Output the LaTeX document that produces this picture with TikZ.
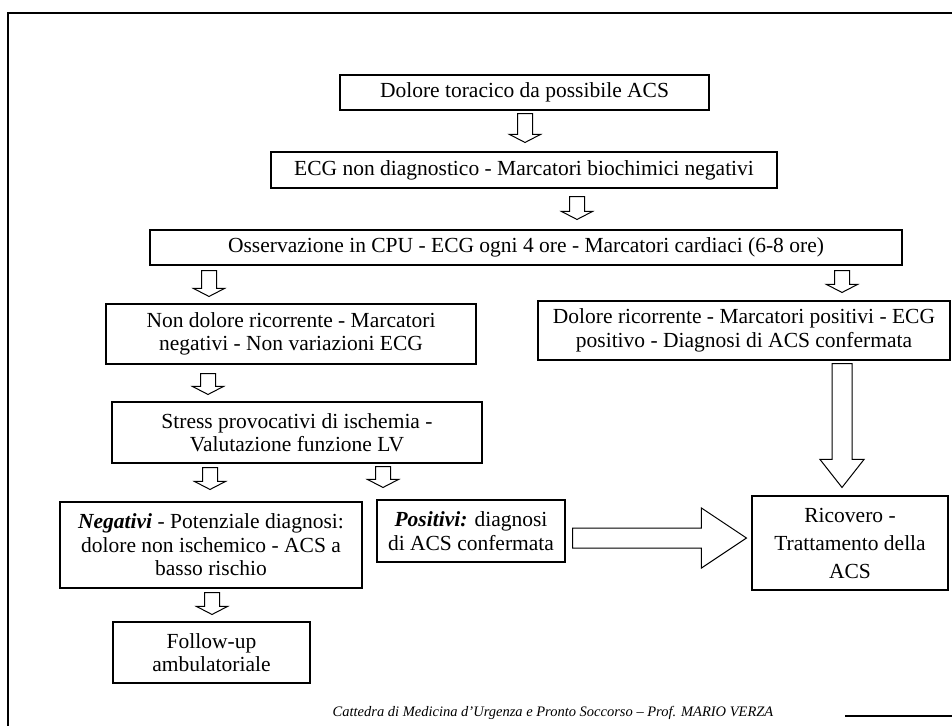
\documentclass[tikz,border=0pt]{standalone}
\usepackage{fontspec}
\setmainfont{Liberation Serif}
\usetikzlibrary{calc}

% Hollow block arrow pointing down.
% #1 x-position coordinate, #2 upper anchor, #3 lower anchor,
% #4 shaft half-width, #5 head half-width, #6 head length, #7 top gap, #8 bottom gap
\newcommand\vblock[8]{%
  \draw[blk] let \p3=(#1), \p1=(#2), \p2=(#3) in
    (\x3-#4,\y1-#7) -- (\x3+#4,\y1-#7) -- (\x3+#4,\y2+#8+#6) -- (\x3+#5,\y2+#8+#6)
    -- (\x3,\y2+#8) -- (\x3-#5,\y2+#8+#6) -- (\x3-#4,\y2+#8+#6) -- cycle;}

% Hollow block arrow pointing right.
% #1 y-position coordinate, #2 left anchor, #3 right anchor,
% #4 shaft half-width, #5 head half-width, #6 head length, #7 left gap, #8 right gap
\newcommand\hblock[8]{%
  \draw[blk] let \p3=(#1), \p1=(#2), \p2=(#3) in
    (\x1+#7,\y3+#4) -- (\x2-#8-#6,\y3+#4) -- (\x2-#8-#6,\y3+#5) -- (\x2-#8,\y3)
    -- (\x2-#8-#6,\y3-#5) -- (\x2-#8-#6,\y3-#4) -- (\x1+#7,\y3-#4) -- cycle;}

\begin{document}
\begin{tikzpicture}[x=1pt,y=-1pt,
  box/.style={draw=black, line width=1.1pt, align=center, inner sep=0pt,
    font=\fontsize{21.5}{23.5}\selectfont},
  blk/.style={draw=black, line width=1pt, fill=white, line join=miter},
  frameline/.style={draw=black, line width=2.6pt}]
\useasboundingbox (0,0) rectangle (952,726);

% page frame
\draw[frameline] (952,13) -- (8,13) -- (8,726);
\draw[black, line width=2pt] (845,716) -- (952,716);

% boxes
\node[box, minimum width=369pt, minimum height=35pt] (b1) at (524.5,92.5)
  {Dolore toracico da possibile ACS};
\node[box, minimum width=506pt, minimum height=36pt] (b2) at (524,170)
  {ECG non diagnostico - Marcatori biochimici negativi};
\node[box, minimum width=752pt, minimum height=35pt] (b3) at (526,247.5)
  {Osservazione in CPU - ECG ogni 4 ore - Marcatori cardiaci (6-8 ore)};
\node[box, minimum width=370pt, minimum height=60pt] (b4) at (291,334)
  {Non dolore ricorrente - Marcatori\\negativi - Non variazioni ECG};
\node[box, minimum width=412pt, minimum height=59pt] (b5) at (744,330.5)
  {Dolore ricorrente - Marcatori positivi - ECG\\positivo - Diagnosi di ACS confermata};
\node[box, minimum width=370pt, minimum height=61pt] (b6) at (297,432.5)
  {Stress provocativi di ischemia -\\Valutazione funzione LV};
\node[box, minimum width=302pt, minimum height=86pt] (neg) at (211,545)
  {\textbf{\textit{Negativi}} - Potenziale diagnosi:\\dolore non ischemico - ACS a\\basso rischio};
\node[box, minimum width=188pt, minimum height=62pt] (pos) at (471,531)
  {\textbf{\textit{Positivi:}} diagnosi\\di ACS confermata};
\node[box, minimum width=197pt, minimum height=61pt] (fu) at (211.5,652.5)
  {Follow-up\\ambulatoriale};
\node[box, minimum width=196pt, minimum height=94pt,
  font=\fontsize{21.5}{28}\selectfont] (ric) at (850,543)
  {Ricovero -\\Trattamento della\\ACS};

% arrow positions
\coordinate (xa1) at (525,0);
\coordinate (xa2) at (577,0);
\coordinate (xa3) at (209,0);
\coordinate (xa4) at (842,0);
\coordinate (xa5) at (208,0);
\coordinate (xa6) at (210,0);
\coordinate (xa7) at (383,0);
\coordinate (xa8) at (212,0);
\coordinate (xbig) at (842,0);
\coordinate (yh) at (0,538);

% small block arrows
\vblock{xa1}{b1.south}{b2.north}{7.5pt}{15.5pt}{8pt}{3pt}{9pt}
\vblock{xa2}{b2.south}{b3.north}{7.5pt}{15.5pt}{8pt}{8pt}{10pt}
\vblock{xa3}{b3.south}{b4.north}{7.5pt}{15.5pt}{8pt}{5pt}{7pt}
\vblock{xa4}{b3.south}{b5.north}{7.5pt}{15.5pt}{8pt}{5pt}{8pt}
\vblock{xa5}{b4.south}{b6.north}{7.5pt}{15.5pt}{8pt}{9pt}{7pt}
\vblock{xa6}{b6.south}{neg.north}{7.5pt}{15.5pt}{8pt}{4pt}{12pt}
\vblock{xa7}{b6.south}{pos.north}{7.5pt}{15.5pt}{8pt}{3pt}{12pt}
\vblock{xa8}{neg.south}{fu.north}{7.5pt}{15.5pt}{8pt}{4pt}{7pt}

% large block arrows
\vblock{xbig}{b5.south}{ric.north}{10pt}{22pt}{28pt}{3pt}{8pt}
\hblock{yh}{pos.east}{ric.west}{10pt}{30pt}{45pt}{7pt}{5pt}

% footer
\node[font=\fontsize{14.5}{16}\itshape] (foot) at (553,713)
  {Cattedra di Medicina d'Urgenza e Pronto Soccorso -- Prof. MARIO VERZA};
\end{tikzpicture}
\end{document}
